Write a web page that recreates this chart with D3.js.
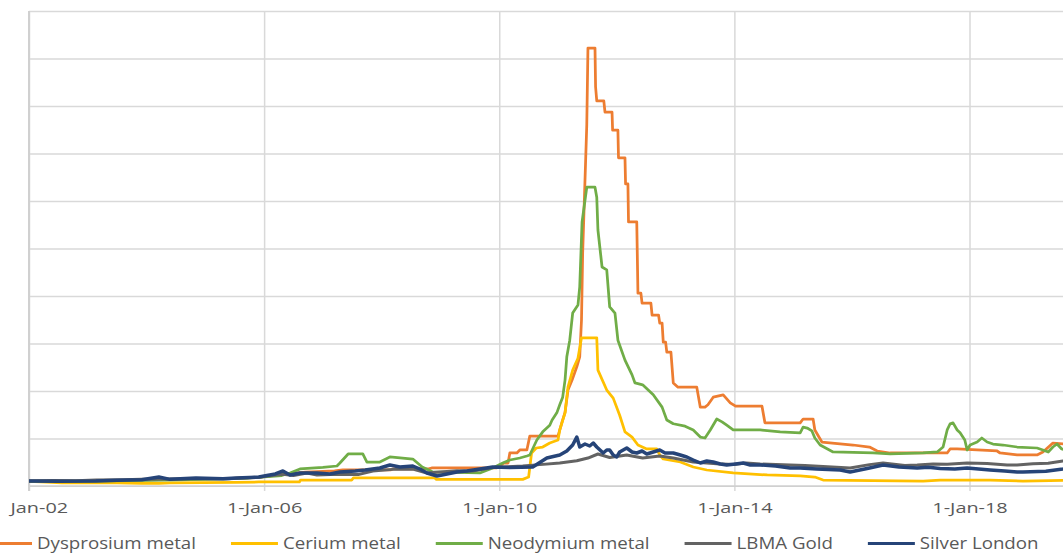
<!DOCTYPE html>
<html>
<head>
<meta charset="utf-8">
<script src="https://cdn.jsdelivr.net/npm/d3@7"></script>
<style>
  html, body { margin: 0; padding: 0; background: #fff; overflow: hidden; }
  svg { display: block; }
  text { font-family: "Open Sans", sans-serif; fill: #595959; }
</style>
</head>
<body>
<svg id="chart" width="1063" height="555"></svg>
<script>
// Price index series (Jan 2002 = 1), points as [decimal year, index]
const tickYears = [2002, 2006, 2010, 2014, 2018];
const tickLabels = ["Jan-02", "1-Jan-06", "1-Jan-10", "1-Jan-14", "1-Jan-18"];
const yGridValues = [0, 10, 20, 30, 40, 50, 60, 70, 80, 90, 100];

const seriesNames = ["Dysprosium metal", "Cerium metal", "Neodymium metal", "LBMA Gold", "Silver London"];
const seriesColors = ["#ED7D31", "#FFC000", "#70AD47", "#636363", "#264478"];

const dysprosium = [
  [2002.00,1.00],[2002.60,1.05],[2003.20,1.10],[2003.90,1.25],[2004.60,1.40],[2005.30,1.55],
  [2005.90,1.80],[2006.30,2.40],[2006.70,2.90],[2007.20,3.20],[2007.34,3.40],[2008.15,3.40],
  [2008.20,3.60],[2008.80,3.60],[2008.85,3.80],[2009.95,3.80],[2010.01,4.20],[2010.08,4.84],
  [2010.15,4.84],[2010.18,6.95],[2010.30,6.95],[2010.35,7.58],[2010.47,7.58],[2010.52,10.5],
  [2011.00,10.5],[2011.07,13.5],[2011.12,15.5],[2011.17,20.2],[2011.24,22.3],[2011.32,25.1],
  [2011.37,27.2],[2011.40,34.9],[2011.42,49.1],[2011.49,76.0],[2011.51,92.2],[2011.63,92.2],
  [2011.64,84.0],[2011.66,81.1],[2011.78,81.1],[2011.80,78.7],[2011.92,78.7],[2011.93,74.9],
  [2012.02,74.9],[2012.03,69.1],[2012.14,69.1],[2012.15,63.6],[2012.19,63.6],[2012.20,55.6],
  [2012.34,55.6],[2012.36,40.6],[2012.41,40.6],[2012.43,38.5],[2012.58,38.5],[2012.60,36.0],
  [2012.71,36.0],[2012.73,34.3],[2012.77,34.3],[2012.79,30.3],[2012.83,30.3],[2012.85,28.2],
  [2012.92,28.2],[2012.96,21.7],[2013.04,20.8],[2013.36,20.8],[2013.42,16.6],[2013.50,16.6],
  [2013.55,17.1],[2013.64,18.7],[2013.81,19.2],[2013.93,17.5],[2014.02,16.8],[2014.47,16.8],
  [2014.52,13.3],[2015.12,13.3],[2015.17,14.1],[2015.34,14.1],[2015.37,11.8],[2015.49,9.26],
  [2016.02,8.63],[2016.30,8.20],[2016.43,7.37],[2016.65,6.95],[2017.62,6.95],[2017.67,7.79],
  [2017.79,7.79],[2018.47,7.37],[2018.52,6.95],[2018.81,6.53],[2019.15,6.53],[2019.25,7.16],
  [2019.42,9.05],[2019.65,8.80]
];

const cerium = [
  [2002.00,1.00],[2002.30,0.80],[2002.56,0.65],[2003.50,0.65],[2003.92,0.55],[2004.21,0.55],
  [2004.40,0.65],[2005.52,0.75],[2005.91,0.85],[2006.60,0.85],[2006.62,1.26],[2007.49,1.26],
  [2007.52,1.70],[2008.90,1.70],[2008.93,1.40],[2010.40,1.40],[2010.50,1.89],[2010.55,6.95],
  [2010.63,8.00],[2010.74,8.20],[2010.86,9.05],[2011.00,9.68],[2011.03,11.8],[2011.12,15.4],
  [2011.17,20.8],[2011.25,24.4],[2011.34,26.9],[2011.40,31.2],[2011.66,31.2],[2011.68,24.4],
  [2011.83,20.2],[2011.94,18.5],[2012.05,14.9],[2012.14,11.4],[2012.26,10.3],[2012.36,8.63],
  [2012.51,7.79],[2012.68,7.79],[2012.73,6.53],[2012.79,5.68],[2013.08,5.05],[2013.30,4.00],
  [2013.53,3.37],[2013.98,2.74],[2014.56,2.32],[2015.12,2.11],[2015.37,1.89],[2015.51,1.26],
  [2017.21,1.05],[2017.50,1.26],[2018.35,1.26],[2018.91,1.05],[2019.65,1.20]
];

const neodymium = [
  [2002.00,1.00],[2003.00,1.05],[2004.00,1.20],[2005.00,1.40],[2005.71,1.68],[2006.30,2.20],
  [2006.44,2.74],[2006.61,3.58],[2007.00,3.90],[2007.24,4.21],[2007.29,4.84],[2007.43,6.74],
  [2007.68,6.74],[2007.75,5.05],[2007.97,5.05],[2008.14,6.11],[2008.53,5.68],[2008.69,4.00],
  [2008.87,2.95],[2009.67,2.74],[2009.89,3.79],[2010.06,4.84],[2010.18,5.47],[2010.35,5.90],
  [2010.47,6.32],[2010.52,6.53],[2010.64,9.68],[2010.74,11.4],[2010.86,12.8],[2010.90,13.9],
  [2010.98,15.4],[2011.03,17.1],[2011.08,18.7],[2011.12,22.3],[2011.15,27.2],[2011.20,30.7],
  [2011.25,36.4],[2011.34,38.1],[2011.37,41.9],[2011.41,55.6],[2011.49,62.9],[2011.63,62.9],
  [2011.66,60.8],[2011.68,53.9],[2011.75,46.1],[2011.83,45.5],[2011.88,37.7],[2011.97,36.4],
  [2012.02,30.7],[2012.14,26.5],[2012.26,23.4],[2012.31,21.7],[2012.44,21.3],[2012.62,19.2],
  [2012.77,16.6],[2012.85,13.9],[2012.96,13.1],[2013.16,12.6],[2013.30,11.8],[2013.42,10.3],
  [2013.50,10.1],[2013.59,11.8],[2013.70,14.1],[2013.79,13.5],[2013.87,12.8],[2013.98,11.8],
  [2014.44,11.8],[2014.78,11.4],[2015.12,11.2],[2015.17,12.4],[2015.24,12.2],[2015.32,11.6],
  [2015.37,10.1],[2015.46,8.63],[2015.68,7.16],[2016.36,6.95],[2016.65,6.74],[2017.21,6.95],
  [2017.45,7.16],[2017.55,8.21],[2017.62,11.8],[2017.67,13.1],[2017.72,13.3],[2017.79,11.8],
  [2017.84,11.2],[2017.92,9.68],[2017.96,7.58],[2018.01,8.63],[2018.13,9.26],[2018.21,10.1],
  [2018.30,9.26],[2018.40,8.84],[2018.57,8.63],[2018.81,8.21],[2019.15,8.00],[2019.25,7.58],
  [2019.34,7.16],[2019.42,8.21],[2019.49,8.84],[2019.57,7.79],[2019.65,7.60]
];

const gold = [
  [2002.00,1.05],[2002.40,1.15],[2002.80,1.12],[2003.14,1.25],[2003.60,1.30],[2003.92,1.40],
  [2004.30,1.45],[2004.84,1.55],[2005.40,1.55],[2005.91,1.85],[2006.05,2.10],[2006.32,2.45],
  [2006.50,2.20],[2006.73,2.74],[2006.90,2.30],[2007.24,2.45],[2007.60,2.40],[2007.85,3.16],
  [2008.19,3.50],[2008.53,3.58],[2008.77,2.74],[2008.94,2.90],[2009.28,3.20],[2009.55,3.16],
  [2009.89,3.90],[2010.06,4.00],[2010.40,4.20],[2010.69,4.50],[2011.03,4.84],[2011.32,5.30],
  [2011.51,5.89],[2011.68,6.74],[2011.88,6.00],[2012.17,6.53],[2012.44,5.89],[2012.73,6.30],
  [2012.96,5.89],[2013.30,5.05],[2013.53,4.84],[2013.70,4.70],[2013.98,4.55],[2014.20,4.84],
  [2014.44,4.63],[2014.95,4.42],[2015.20,4.30],[2015.51,4.10],[2015.97,3.79],[2016.30,4.50],
  [2016.53,4.84],[2016.90,4.30],[2017.11,4.40],[2017.38,4.63],[2017.62,4.60],[2017.96,4.84],
  [2018.30,4.75],[2018.64,4.40],[2018.81,4.42],[2019.08,4.70],[2019.34,4.80],[2019.59,5.26],
  [2019.65,5.30]
];

const silver = [
  [2002.00,1.05],[2002.50,1.00],[2003.14,1.05],[2003.50,1.20],[2003.92,1.30],[2004.21,1.89],
  [2004.40,1.40],[2004.84,1.68],[2005.30,1.55],[2005.52,1.70],[2005.91,1.89],[2006.00,2.11],
  [2006.19,2.53],[2006.32,3.16],[2006.44,2.32],[2006.61,2.74],[2006.90,2.74],[2007.12,2.53],
  [2007.29,2.95],[2007.55,3.16],[2007.72,3.37],[2007.97,3.79],[2008.14,4.42],[2008.31,4.00],
  [2008.53,4.21],[2008.65,3.58],[2008.77,2.74],[2008.94,2.11],[2009.11,2.53],[2009.28,2.95],
  [2009.45,3.16],[2009.67,3.58],[2009.89,4.00],[2010.18,3.90],[2010.57,4.00],[2010.81,5.89],
  [2011.03,6.53],[2011.15,7.37],[2011.25,8.63],[2011.32,10.3],[2011.37,8.21],[2011.46,8.84],
  [2011.54,8.42],[2011.60,9.05],[2011.66,8.21],[2011.77,6.95],[2011.83,7.58],[2011.88,7.58],
  [2011.94,6.53],[2012.00,6.11],[2012.05,7.16],[2012.17,8.00],[2012.26,7.16],[2012.34,6.95],
  [2012.43,7.37],[2012.51,6.74],[2012.62,7.16],[2012.73,7.58],[2012.82,6.95],[2012.96,6.95],
  [2013.08,6.53],[2013.19,6.11],[2013.30,5.47],[2013.42,4.84],[2013.53,5.26],[2013.64,5.05],
  [2013.76,4.63],[2013.87,4.42],[2014.02,4.63],[2014.15,4.84],[2014.27,4.42],[2014.44,4.42],
  [2014.70,4.21],[2014.95,3.79],[2015.12,3.79],[2015.40,3.58],[2015.80,3.37],[2015.97,2.95],
  [2016.30,3.80],[2016.53,4.42],[2016.80,4.00],[2017.11,3.79],[2017.30,3.95],[2017.50,3.70],
  [2017.75,3.58],[2017.96,3.79],[2018.35,3.37],[2018.60,3.16],[2018.81,2.95],[2018.91,2.95],
  [2019.30,3.10],[2019.59,3.58],[2019.65,3.70]
];

const seriesData = [dysprosium, cerium, neodymium, gold, silver];
const seriesWidths = [2.75, 2.75, 2.75, 3, 3.5];

// decimal year -> UTC Date
function yearToDate(v) {
  const yr = Math.floor(v);
  const a = Date.UTC(yr, 0, 1), b = Date.UTC(yr + 1, 0, 1);
  return new Date(a + (v - yr) * (b - a));
}

const W = 1063, H = 555;
const plot = { left: 29, right: W, top: 11, bottom: 486 };

const svg = d3.select("#chart");
svg.append("rect").attr("width", W).attr("height", H).attr("fill", "#fff");

const x = d3.scaleUtc()
  .domain([yearToDate(2002), yearToDate(2018)])
  .range([plot.left, 969.5]);
const y = d3.scaleLinear().domain([0, 100]).range([plot.bottom, plot.top]);

// horizontal gridlines
svg.append("g")
  .attr("transform", `translate(${plot.left},0)`)
  .call(d3.axisLeft(y).tickValues(yGridValues.filter(v => v > 0))
    .tickSize(-(plot.right - plot.left)).tickFormat(""))
  .call(g => g.select(".domain").remove())
  .call(g => g.selectAll(".tick line").attr("stroke", "#d9d9d9").attr("stroke-width", 1.5));

// vertical gridlines (extend a little below the axis as tick marks)
const tickDates = tickYears.map(yearToDate);
svg.append("g")
  .attr("transform", `translate(0,${plot.bottom + 5})`)
  .call(d3.axisBottom(x).tickValues(tickDates)
    .tickSize(-(plot.bottom + 5 - plot.top)).tickFormat(""))
  .call(g => g.select(".domain").remove())
  .call(g => g.selectAll(".tick line").attr("stroke", "#d9d9d9").attr("stroke-width", 1.5));

// axis lines
svg.append("line").attr("x1", plot.left).attr("x2", plot.left)
  .attr("y1", plot.top).attr("y2", plot.bottom + 5)
  .attr("stroke", "#d0d0d0").attr("stroke-width", 2);
svg.append("line").attr("x1", plot.left).attr("x2", plot.right)
  .attr("y1", plot.bottom).attr("y2", plot.bottom)
  .attr("stroke", "#d0d0d0").attr("stroke-width", 1.75);

// x tick labels
const tickStretch = 1.37;
svg.append("g")
  .attr("transform", `translate(0,${plot.bottom})`)
  .call(d3.axisBottom(x).tickValues(tickDates).tickSize(0)
    .tickFormat((d, i) => tickLabels[i]))
  .call(g => g.select(".domain").remove())
  .call(g => g.selectAll(".tick text")
    .attr("y", 27).attr("dy", 0)
    .attr("font-size", "14.5px")
    .attr("fill", "#595959")
    .attr("transform", `scale(${tickStretch},1)`)
    .each(function(d, i) {
      if (i === 0) {
        d3.select(this).attr("text-anchor", "start").attr("x", -19 / tickStretch);
      }
    }));

// series lines
svg.append("defs").append("clipPath").attr("id", "plotClip")
  .append("rect").attr("x", plot.left).attr("y", 0)
  .attr("width", plot.right - plot.left).attr("height", plot.bottom + 4);

const line = d3.line()
  .x(d => x(yearToDate(d[0])))
  .y(d => y(d[1]));

const lines = svg.append("g").attr("clip-path", "url(#plotClip)");
seriesData.forEach((data, i) => {
  lines.append("path")
    .datum(data)
    .attr("fill", "none")
    .attr("stroke", seriesColors[i])
    .attr("stroke-width", seriesWidths[i])
    .attr("stroke-linejoin", "round")
    .attr("stroke-linecap", "round")
    .attr("d", line);
});

// legend
const legendStretch = 1.10;
const legend = svg.append("g");
let lx = -15;
seriesNames.forEach((name, i) => {
  legend.append("line")
    .attr("x1", lx).attr("x2", lx + 47)
    .attr("y1", 543.5).attr("y2", 543.5)
    .attr("stroke", seriesColors[i]).attr("stroke-width", 3);
  const t = legend.append("text")
    .attr("font-size", "17px")
    .attr("fill", "#595959")
    .attr("transform", `translate(${lx + 52},549) scale(${legendStretch},1)`)
    .text(name);
  const w = t.node().getComputedTextLength() * legendStretch;
  lx = lx + 52 + w + 35;
});
</script>
</body>
</html>
